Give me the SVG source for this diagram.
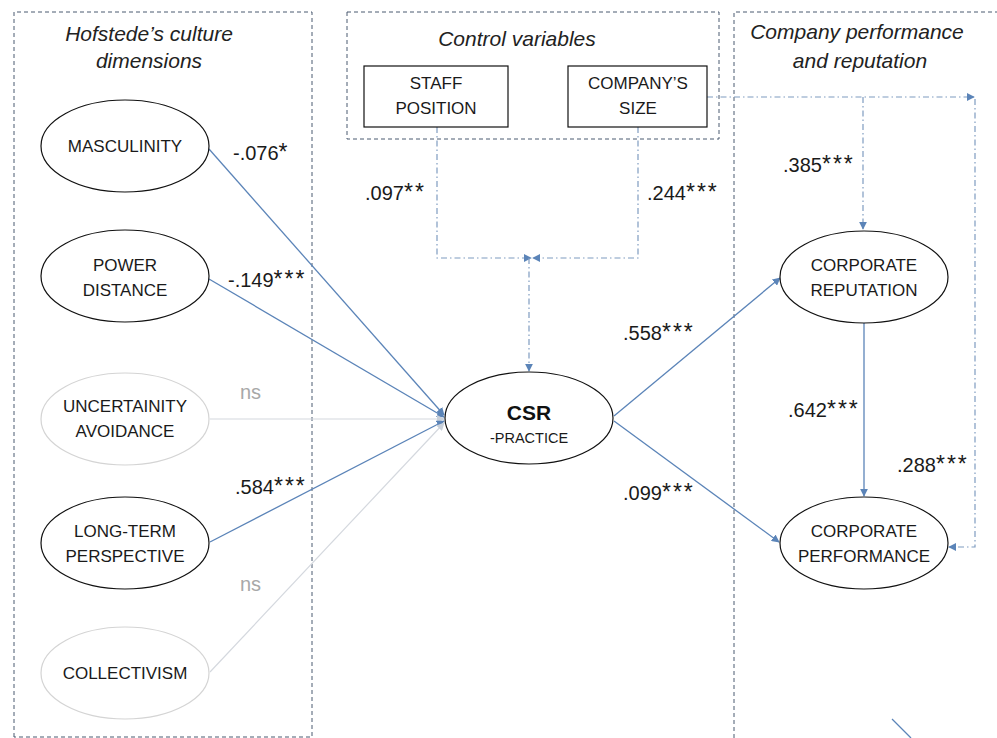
<svg xmlns="http://www.w3.org/2000/svg" width="997" height="738" viewBox="0 0 997 738">
<defs>
<style>
.frame{fill:none;stroke:#4a5a70;stroke-width:1;stroke-dasharray:4 3}
.title{font-family:"Liberation Sans",Arial,sans-serif;font-style:italic;font-size:21px;fill:#222;text-anchor:middle}
.node{fill:#fff;stroke:#111;stroke-width:1.2}
.faint{fill:#fff;stroke:#d4d4d4;stroke-width:1.2}
.nt{font-family:"Liberation Sans",Arial,sans-serif;font-size:17px;fill:#1a1a1a;text-anchor:middle}
.lbl{font-family:"Liberation Sans",Arial,sans-serif;font-size:20px;fill:#1a1a1a}
.st{font-size:23px;letter-spacing:2px}
.ns{font-family:"Liberation Sans",Arial,sans-serif;font-size:20px;fill:#a8a8a8}
.arr{fill:none;stroke:#5b84b8;stroke-width:1.3}
.arrf{fill:none;stroke:#d4d8de;stroke-width:1.2}
.dd{fill:none;stroke:#7f9cc0;stroke-width:1.2;stroke-dasharray:6 3 1.5 3}
</style>
<marker id="ah" viewBox="0 0 10 10" refX="9" refY="5" markerWidth="8" markerHeight="8" markerUnits="userSpaceOnUse" orient="auto">
<path d="M0,0 L10,5 L0,10 z" fill="#5b84b8"/>
</marker>
<marker id="ahf" viewBox="0 0 10 10" refX="9" refY="5" markerWidth="8" markerHeight="8" markerUnits="userSpaceOnUse" orient="auto">
<path d="M0,0 L10,5 L0,10 z" fill="#c8d0da"/>
</marker>
</defs>
<rect width="997" height="738" fill="#fff"/>

<g id="frames">
<path class="frame" d="M14,737 V12 H312 V737 Z"/>
<rect class="frame" x="347" y="12" width="372" height="127"/>
<path class="frame" d="M734,738 V12 H997"/>
<text class="title" x="149" y="41">Hofstede’s culture</text>
<text class="title" x="149" y="68">dimensions</text>
<text class="title" x="517" y="46">Control variables</text>
<text class="title" x="857" y="39">Company performance</text>
<text class="title" x="860" y="68">and reputation</text>
</g>

<g id="connectors">
<line class="arr" x1="209" y1="149" x2="444" y2="415" marker-end="url(#ah)"/>
<line class="arr" x1="209" y1="279" x2="444" y2="417" marker-end="url(#ah)"/>
<line class="arrf" x1="210" y1="419" x2="444" y2="419" marker-end="url(#ahf)"/>
<line class="arr" x1="210" y1="542" x2="444" y2="421" marker-end="url(#ah)"/>
<line class="arrf" x1="210" y1="672" x2="444" y2="423" marker-end="url(#ahf)"/>
<line class="arr" x1="614" y1="416" x2="780" y2="278" marker-end="url(#ah)"/>
<line class="arr" x1="614" y1="421" x2="779" y2="542" marker-end="url(#ah)"/>
<line class="arr" x1="864" y1="323" x2="864" y2="496" marker-end="url(#ah)"/>
<path class="dd" d="M437,127 V258 H531" marker-end="url(#ah)"/>
<path class="dd" d="M638,127 V258 H533" marker-end="url(#ah)"/>
<line class="dd" x1="529" y1="258" x2="529" y2="371" marker-end="url(#ah)"/>
<line class="dd" x1="707" y1="97" x2="974" y2="97" marker-end="url(#ah)"/>
<line class="dd" x1="863" y1="97" x2="863" y2="229" marker-end="url(#ah)"/>
<path class="dd" d="M975,99 V547 H949" marker-end="url(#ah)"/>
<line class="arr" x1="892" y1="719" x2="911" y2="738"/>
</g>

<g id="masculinity">
<ellipse class="node" cx="125" cy="146" rx="84" ry="46"/>
<text class="nt" x="125" y="152">MASCULINITY</text>
</g>
<g id="power-distance">
<ellipse class="node" cx="125" cy="276" rx="84" ry="46"/>
<text class="nt" x="125" y="271">POWER</text>
<text class="nt" x="125" y="296">DISTANCE</text>
</g>
<g id="uncertainity-avoidance">
<ellipse class="faint" cx="125" cy="419" rx="84" ry="46"/>
<text class="nt" x="125" y="412">UNCERTAINITY</text>
<text class="nt" x="125" y="437">AVOIDANCE</text>
</g>
<g id="long-term-perspective">
<ellipse class="node" cx="125" cy="543" rx="84" ry="46"/>
<text class="nt" x="125" y="537">LONG-TERM</text>
<text class="nt" x="125" y="562">PERSPECTIVE</text>
</g>
<g id="collectivism">
<ellipse class="faint" cx="125" cy="673" rx="84" ry="46"/>
<text class="nt" x="125" y="679">COLLECTIVISM</text>
</g>
<g id="staff-position">
<rect class="node" x="364" y="66" width="144" height="61"/>
<text class="nt" x="436" y="89">STAFF</text>
<text class="nt" x="436" y="114">POSITION</text>
</g>
<g id="company-size">
<rect class="node" x="568" y="66" width="139" height="61"/>
<text class="nt" x="638" y="89">COMPANY’S</text>
<text class="nt" x="638" y="114">SIZE</text>
</g>
<g id="csr">
<ellipse class="node" cx="529" cy="418" rx="84" ry="46"/>
<text x="529" y="420" style="font-family:'Liberation Sans',Arial,sans-serif;font-size:21px;font-weight:bold;fill:#111;text-anchor:middle">CSR</text>
<text x="529" y="443" style="font-family:'Liberation Sans',Arial,sans-serif;font-size:14.5px;fill:#1a1a1a;text-anchor:middle">-PRACTICE</text>
</g>
<g id="corporate-reputation">
<ellipse class="node" cx="864" cy="277" rx="84" ry="46"/>
<text class="nt" x="864" y="271">CORPORATE</text>
<text class="nt" x="864" y="296">REPUTATION</text>
</g>
<g id="corporate-performance">
<ellipse class="node" cx="864" cy="543" rx="84" ry="46"/>
<text class="nt" x="864" y="537">CORPORATE</text>
<text class="nt" x="864" y="562">PERFORMANCE</text>
</g>

<g id="labels">
<text class="lbl" x="233" y="160">-.076<tspan class="st">*</tspan></text>
<text class="lbl" x="228" y="287">-.149<tspan class="st">***</tspan></text>
<text class="ns" x="240" y="399">ns</text>
<text class="lbl" x="235" y="494">.584<tspan class="st">***</tspan></text>
<text class="ns" x="240" y="591">ns</text>
<text class="lbl" x="365" y="200">.097<tspan class="st">**</tspan></text>
<text class="lbl" x="647" y="200">.244<tspan class="st">***</tspan></text>
<text class="lbl" x="783" y="172">.385<tspan class="st">***</tspan></text>
<text class="lbl" x="623" y="340">.558<tspan class="st">***</tspan></text>
<text class="lbl" x="623" y="500">.099<tspan class="st">***</tspan></text>
<text class="lbl" x="788" y="417">.642<tspan class="st">***</tspan></text>
<text class="lbl" x="897" y="472">.288<tspan class="st">***</tspan></text>
</g>
</svg>
